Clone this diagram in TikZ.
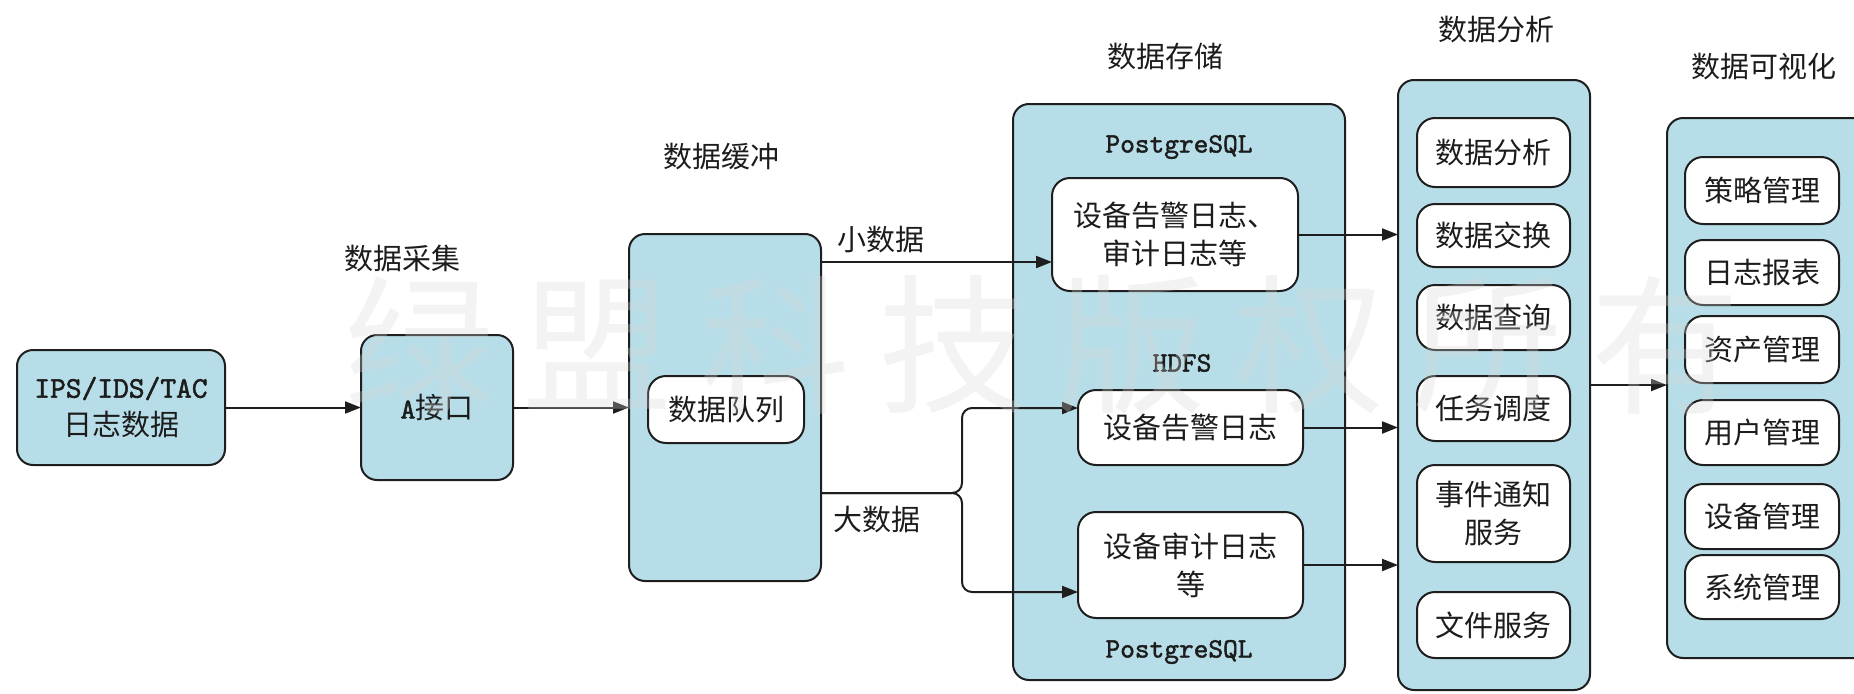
\documentclass[tikz,border=0pt]{standalone}
\usepackage{fontspec}
\setmainfont{Noto Sans CJK SC}
\newfontfamily\monof{lmmono10-regular.otf}[FakeBold=1.6]
\usetikzlibrary{arrows.meta,calc}
\definecolor{boxblue}{RGB}{183,222,232}
\definecolor{edge}{RGB}{30,30,30}
\definecolor{ink}{RGB}{28,28,28}
\newcommand\cjkfont{\fontsize{29}{38}\selectfont}
\newcommand\latfont{\monof\fontsize{28}{36}\selectfont}

\begin{document}
\begin{tikzpicture}[x=1pt,y=-1pt,
  panel/.style={draw=edge,line width=2pt,fill=boxblue,rounded corners=16pt,
    inner sep=0pt,outer sep=0pt,align=center,font=\cjkfont,text=ink},
  item/.style={draw=edge,line width=2pt,fill=white,rounded corners=18pt,
    inner sep=0pt,outer sep=0pt,align=center,font=\cjkfont,text=ink},
  heading/.style={font=\cjkfont,text=ink,inner sep=0pt},
  dbname/.style={font=\latfont,text=ink,inner sep=0pt},
  conn/.style={draw=edge,line width=2pt,-{Triangle[length=16pt,width=12pt]}},
  wm/.style={font=\fontsize{150}{150}\selectfont,text=black!16,opacity=0.3,inner sep=0pt}]

\useasboundingbox (0,0) rectangle (1854,693);
\clip (0,0) rectangle (1854,693);

% collection
\node[panel,minimum width=208pt,minimum height=115pt] (ips) at (121,407.5)
  {{\monof\fontsize{30}{38}\selectfont IPS/IDS/TAC}\\日志数据};
\node[heading] (tcollect) at (402,258) {数据采集};
\node[panel,minimum width=152pt,minimum height=145pt] (A) at (437,407.5)
  {{\monof\fontsize{29}{38}\selectfont A}接口};

% buffer
\node[heading] (tbuffer) at (721,157) {数据缓冲};
\node[panel,minimum width=192pt,minimum height=347pt] (buf) at (725,407.5) {};
\node[item,minimum width=156pt,minimum height=67pt] (queue) at (726,409.5) {数据队列};

% storage
\node[heading] (tstore) at (1165,56) {数据存储};
\node[panel,minimum width=332pt,minimum height=576pt] (sto) at (1179,392) {};
\node[dbname] (pg1) at (1179,147) {PostgreSQL};
\node[item,minimum width=246pt,minimum height=113pt] (b1) at (1175,234.5)
  {设备告警日志、\\审计日志等};
\node[dbname] (hdfs) at (1182,363) {HDFS};
\node[item,minimum width=225pt,minimum height=75pt] (b2) at (1190.5,427.5) {设备告警日志};
\node[item,minimum width=225pt,minimum height=106pt] (b3) at (1190.5,565)
  {设备审计日志\\等};
\node[dbname] (pg2) at (1179,652) {PostgreSQL};

% analysis
\node[heading] (tana) at (1496,30) {数据分析};
\node[panel,minimum width=192pt,minimum height=610pt] (ana) at (1494,385) {};
\node[item,minimum width=153pt,minimum height=69pt] (a1) at (1493.5,152.5) {数据分析};
\node[item,minimum width=153pt,minimum height=63pt] (a2) at (1493.5,235.5) {数据交换};
\node[item,minimum width=153pt,minimum height=65pt] (a3) at (1493.5,317.5) {数据查询};
\node[item,minimum width=153pt,minimum height=65pt] (a4) at (1493.5,408.5) {任务调度};
\node[item,minimum width=153pt,minimum height=97pt] (a5) at (1493.5,513.5) {事件通知\\服务};
\node[item,minimum width=153pt,minimum height=66pt] (a6) at (1493.5,625) {文件服务};

% visualisation
\node[heading] (tviz) at (1764,67) {数据可视化};
\node[panel,minimum width=208pt,minimum height=540pt] (viz) at (1771,388) {};
\node[item,minimum width=154pt,minimum height=67pt] (v1) at (1762,190.5) {策略管理};
\node[item,minimum width=154pt,minimum height=65pt] (v2) at (1762,272.5) {日志报表};
\node[item,minimum width=154pt,minimum height=67pt] (v3) at (1762,349.5) {资产管理};
\node[item,minimum width=154pt,minimum height=65pt] (v4) at (1762,432.5) {用户管理};
\node[item,minimum width=154pt,minimum height=65pt] (v5) at (1762,516.5) {设备管理};
\node[item,minimum width=154pt,minimum height=64pt] (v6) at (1762,587) {系统管理};

% connectors
\draw[conn] (ips.east) -- (A.west);
\draw[conn] (A.east) -- (buf.west);

\coordinate (smallin) at ([yshift=-27.5pt]b1.west);
\draw[conn] (buf.east |- smallin) -- (smallin);
\node[heading] (lsmall) at (881,240) {小数据};

\coordinate (fork) at (962,493);
\draw[conn,rounded corners=10pt] (buf.east |- fork) -- (fork) |- ([yshift=19.5pt]b2.west);
\draw[conn,rounded corners=10pt] (buf.east |- fork) -- (fork) |- ([yshift=-27pt]b3.west);
\node[heading] (lbig) at (877,520) {大数据};

\draw[conn] (b1.east) -- (b1.east -| ana.west);
\draw[conn] (b2.east) -- (b2.east -| ana.west);
\draw[conn] (b3.east) -- (b3.east -| ana.west);
\draw[conn] (ana.east) -- (ana.east -| viz.west);

% faint watermark across the drawing
\foreach \c [count=\i from 0] in {绿,盟,科,技,版,权,所,有}
  \node[wm] (wm\i) at (419+178*\i,345) {\c};
\end{tikzpicture}
\end{document}
